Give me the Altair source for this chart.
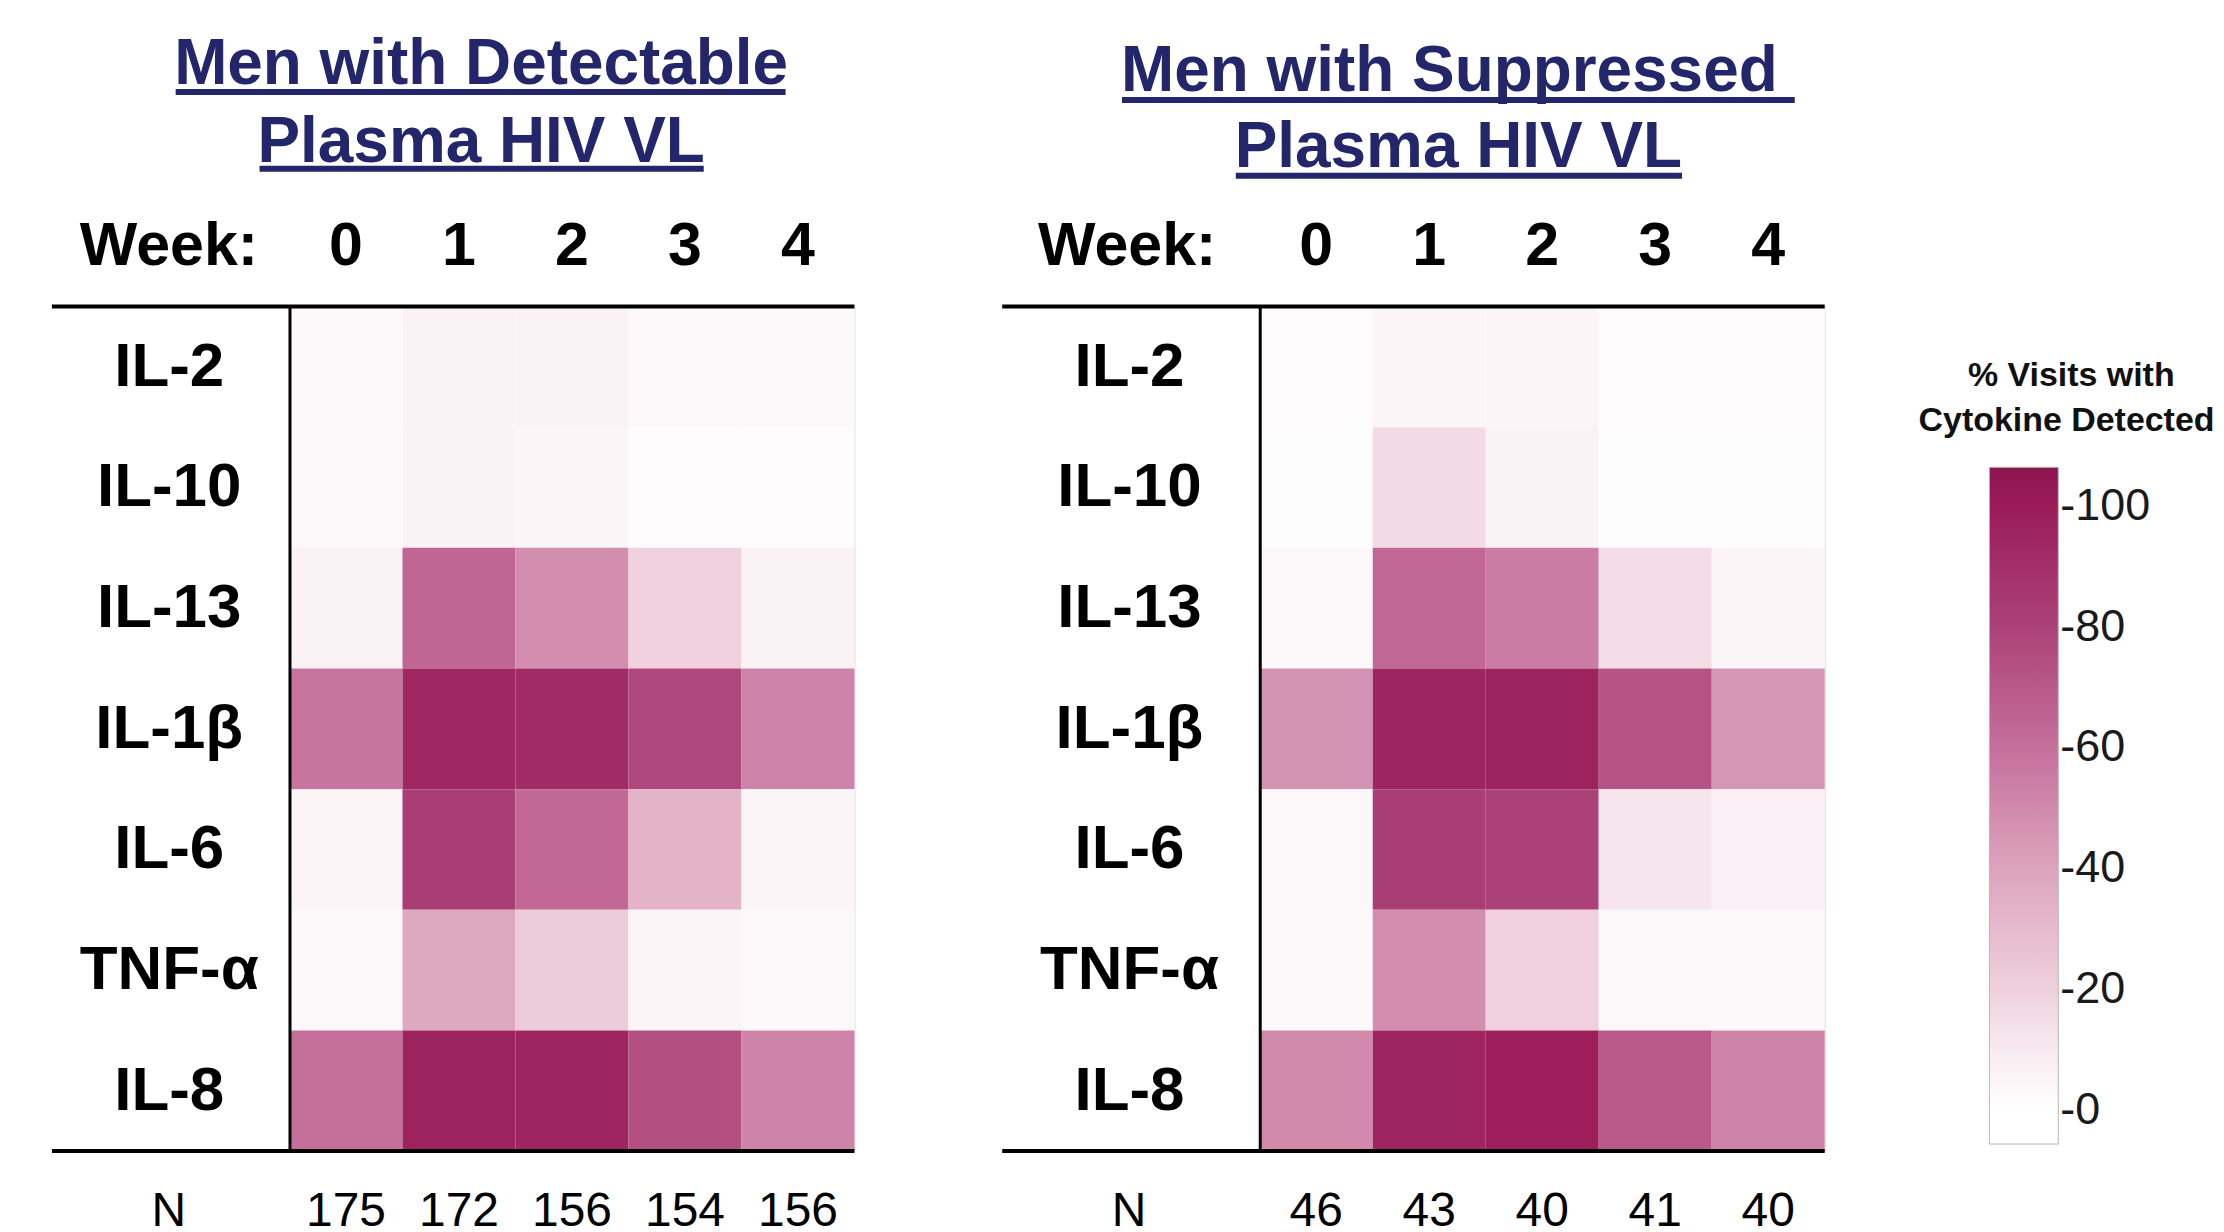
import altair as alt
import pandas as pd

# ---------------- data ----------------
cytokines = ["IL-2", "IL-10", "IL-13", "IL-1β", "IL-6", "TNF-α", "IL-8"]
weeks = ["0", "1", "2", "3", "4"]

# Men with detectable plasma HIV VL (% visits with cytokine detected)
det_il2 = [3, 6, 6, 4, 3]
det_il10 = [3, 6, 5, 2, 2]
det_il13 = [6, 64, 48, 20, 6]
det_il1b = [58, 94, 92, 78, 52]
det_il6 = [5, 82, 63, 33, 5]
det_tnfa = [4, 38, 22, 5, 4]
det_il8 = [60, 96, 95, 74, 52]
det_n = [175, 172, 156, 154, 156]

# Men with suppressed plasma HIV VL
sup_il2 = [2, 5, 5, 2, 2]
sup_il10 = [1, 16, 6, 1, 1]
sup_il13 = [4, 63, 55, 15, 5]
sup_il1b = [46, 95, 96, 72, 45]
sup_il6 = [4, 82, 80, 12, 7]
sup_tnfa = [3, 48, 20, 4, 4]
sup_il8 = [50, 95, 98, 70, 52]
sup_n = [46, 43, 40, 41, 40]

det_rows = [det_il2, det_il10, det_il13, det_il1b, det_il6, det_tnfa, det_il8]
sup_rows = [sup_il2, sup_il10, sup_il13, sup_il1b, sup_il6, sup_tnfa, sup_il8]

color_stops = [-5.7, 0, 10, 20, 40, 60, 80, 100, 106.4]
color_range = ["#ffffff", "#ffffff", "#f8eaf0", "#efd0dc", "#dca3bd",
               "#c56f9b", "#ab4277", "#9a1b58", "#8c1650"]
legend_ticks = [0, 20, 40, 60, 80, 100]


def long_table(rows):
    recs = []
    for c, vals in zip(cytokines, rows):
        for w, v in zip(weeks, vals):
            recs.append({"cytokine": c, "week": w, "pct": v})
    return pd.DataFrame(recs)


det_df = long_table(det_rows)
sup_df = long_table(sup_rows)
det_ndf = pd.DataFrame({"week": weeks, "n": det_n})
sup_ndf = pd.DataFrame({"week": weeks, "n": sup_n})
one = pd.DataFrame({"k": [0]})

# ---------------- style ----------------
SANS = "Liberation Sans, Arial, Helvetica, sans-serif"
NAVY = "#23266a"
W, H = 566, 846

cscale = alt.Scale(domain=color_stops, range=color_range, interpolate="rgb")


def xenc(week_title_x):
    return alt.X(
        "week:N", sort=weeks,
        scale=alt.Scale(domain=weeks, paddingInner=0, paddingOuter=0),
        axis=alt.Axis(orient="top", domain=False, ticks=False, tickSize=0,
                      labelAngle=0, labelFont=SANS, labelFontWeight="bold",
                      labelFontSize=61, labelColor="black", labelPadding=42,
                      labelBaseline="alphabetic", labelLimit=300,
                      title="Week:", titleFont=SANS, titleFontWeight="bold",
                      titleFontSize=61, titleColor="black", titleAlign="right",
                      titleX=week_title_x, titleY=-42, titleBaseline="alphabetic",
                      titleAngle=0, titleLimit=400),
    )


def panel(df, ndf, label_dist, week_title_x, left_ext, titles, legend):
    rect = alt.Chart(df).mark_rect().encode(
        x=xenc(week_title_x),
        y=alt.Y("cytokine:N", sort=cytokines,
                scale=alt.Scale(domain=cytokines, paddingInner=0, paddingOuter=0),
                axis=alt.Axis(orient="left", domain=True, domainColor="black",
                              domainWidth=3, ticks=False, tickSize=0,
                              labelFont=SANS, labelFontWeight="bold",
                              labelFontSize=62, labelColor="black",
                              labelAlign="center", labelBaseline="middle",
                              labelPadding=label_dist, labelLimit=400,
                              title=None)),
        color=alt.Color("pct:Q", scale=cscale, legend=legend),
    )
    top_rule = alt.Chart(one).mark_rule(color="black", strokeWidth=4).encode(
        x=alt.value(left_ext), x2=alt.value(W), y=alt.value(0))
    bot_rule = alt.Chart(one).mark_rule(color="black", strokeWidth=4).encode(
        x=alt.value(left_ext), x2=alt.value(W), y=alt.value(H))
    ntext = alt.Chart(ndf).mark_text(font=SANS, fontSize=48,
                                     baseline="alphabetic", color="black").encode(
        x=xenc(week_title_x), y=alt.value(921), text="n:Q")
    nlab = alt.Chart(one).mark_text(font=SANS, fontSize=48,
                                    baseline="alphabetic", color="black").encode(
        x=alt.value(-label_dist), y=alt.value(921), text=alt.value("N"))
    layers = [rect, top_rule, bot_rule, ntext, nlab]
    for (txt, cx, by, ux0, ux1, uy) in titles:
        layers.append(alt.Chart(one).mark_text(
            font=SANS, fontSize=64, fontWeight="bold", color=NAVY,
            baseline="alphabetic", align="center").encode(
            x=alt.value(cx), y=alt.value(by), text=alt.value(txt)))
        layers.append(alt.Chart(one).mark_rule(color=NAVY, strokeWidth=6).encode(
            x=alt.value(ux0), x2=alt.value(ux1), y=alt.value(uy)))
    return alt.layer(*layers).properties(width=W, height=H)


left_titles = [
    ("Men with Detectable", 192, -223, -114, 497, -215),
    ("Plasma HIV VL", 192, -145, -30, 415, -138),
]
right_titles = [
    ("Men with Suppressed", 190, -216, -138, 536, -207),
    ("Plasma HIV VL", 199, -140, -24, 423, -131),
]

legend = alt.Legend(orient="none", legendX=731, legendY=161, direction="vertical",
                    gradientLength=678, gradientThickness=69,
                    gradientStrokeColor="#b8b8b8", gradientStrokeWidth=1,
                    values=legend_ticks, labelExpr="'-' + datum.label",
                    labelFont=SANS, labelFontSize=45, labelColor="#1a1a1a",
                    labelOffset=2, labelBaseline="middle", title=None)

left = panel(det_df, det_ndf, 121, -32, -238, left_titles, None)
right = panel(sup_df, sup_ndf, 131, -44, -258, right_titles, legend)

leg_title = [
    alt.Chart(one).mark_text(font=SANS, fontSize=34, fontWeight="bold",
                             color="#111111", baseline="alphabetic",
                             align="center").encode(
        x=alt.value(813), y=alt.value(80), text=alt.value("% Visits with")),
    alt.Chart(one).mark_text(font=SANS, fontSize=34, fontWeight="bold",
                             color="#111111", baseline="alphabetic",
                             align="left", limit=300, ellipsis="").encode(
        x=alt.value(660), y=alt.value(125), text=alt.value("Cytokine Detected")),
]
right = alt.layer(right, *leg_title)

chart = alt.hconcat(left, right, spacing=142).resolve_scale(
    color="independent").properties(
    padding={"left": 41, "top": 23, "right": 0, "bottom": 0}
).configure_view(stroke="#c8c8c8", strokeWidth=1).configure(font=SANS)

chart.save("out.html", embed_options={"renderer": "svg", "actions": False})
